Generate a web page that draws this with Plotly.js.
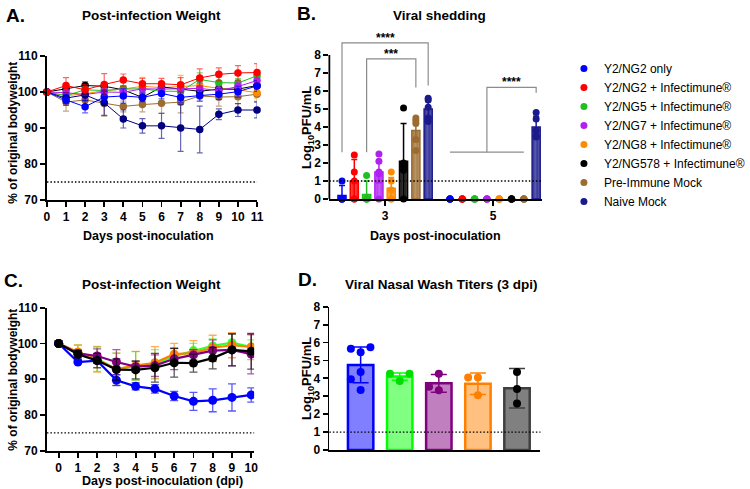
<!DOCTYPE html>
<html>
<head>
<meta charset="utf-8">
<script src="https://cdn.plot.ly/plotly-3.0.1.min.js"></script>
<style>html,body{margin:0;padding:0;background:#fff;}#chart{width:750px;height:489px;}</style>
</head>
<body>
<div id="chart"></div>
<script>
// ---------------- DATA ----------------
// Panel A: Post-infection weight (% of original), days 0-11
const aDays = [0,1,2,3,4,5,6,7,8,9,10,11];
const aBlue   = [100, 97.8, 95.9, 98.6, 98.9, 98.5, 99.6, 98.5, 99.0, 99.4, 100.1, 101.7];
const aRed    = [100, 101.8, 100.6, 102.1, 103.3, 102.3, 102.3, 102.0, 103.9, 104.9, 105.3, 105.4];
const aGreen  = [100, 99.0, 100.6, 100.4, 100.8, 100.9, 100.2, 100.2, 103.5, 102.6, 102.5, 104.5];
const aPurple = [100, 99.8, 99.3, 100.0, 99.9, 100.9, 100.8, 101.0, 101.0, 100.4, 101.5, 103.2];
const aOrange = [100, 99.0, 99.5, 100.4, 100.8, 101.6, 101.2, 101.6, 101.8, 101.0, 100.6, 99.8];
const aBlack  = [100, 100.8, 101.8, 101.6, 100.6, 98.5, 101.4, 100.8, 100.2, 100.8, 100.8, 101.8];
const aBrown  = [100, 97.2, 97.8, 96.8, 96.0, 96.5, 96.9, 97.2, 98.9, 98.6, 98.7, 99.4];
const aNavy   = [100, 98.3, 99.2, 97.0, 92.5, 90.6, 90.6, 90.0, 89.6, 93.8, 95.0, 95.0];
const aBlueSd   = [0, 1.5, 1.7, 1.5, 2.0, 1.2, 1.5, 1.5, 1.5, 1.5, 1.5, 1.5];
const aRedSd    = [0, 2.2, 1.5, 3.0, 1.7, 1.5, 1.5, 2.0, 2.5, 1.8, 2.0, 2.5];
const aGreenSd  = [0, 1.5, 1.0, 1.2, 1.0, 1.0, 1.0, 1.0, 1.8, 1.5, 1.2, 1.5];
const aPurpleSd = [0, 1.0, 1.0, 1.0, 1.2, 1.0, 1.0, 1.5, 1.5, 1.2, 1.2, 1.5];
const aOrangeSd = [0, 1.0, 1.0, 1.0, 1.0, 2.5, 1.5, 3.0, 1.5, 1.5, 1.5, 1.5];
const aBlackSd  = [0, 1.0, 1.0, 1.0, 1.0, 1.0, 1.0, 1.0, 1.0, 1.0, 1.0, 1.0];
const aBrownSd  = [0, 2.5, 2.0, 3.5, 1.5, 2.0, 2.8, 3.0, 1.5, 2.5, 2.0, 2.0];
const aNavySd   = [0, 1.5, 1.5, 3.5, 2.5, 2.0, 3.5, 6.5, 6.5, 1.5, 1.8, 2.2];

// Panel B: Viral shedding (log10 PFU/mL), days 3 and 5
const groupNames = ["Y2/NG2 only","Y2/NG2 + Infectimune®","Y2/NG5 + Infectimune®","Y2/NG7 + Infectimune®",
                    "Y2/NG8 + Infectimune®","Y2/NG578 + Infectimune®","Pre-Immune Mock","Naive Mock"];
const bDays = [3, 5];
const bMeanD3 = [0.2, 1.0, 0.25, 1.5, 0.6, 2.1, 3.8, 5.0];
const bSdD3   = [0.55, 1.2, 0.75, 0.6, 0.6, 2.1, 0.6, 0.45];
const bMeanD5 = [0, 0, 0, 0, 0, 0, 0, 4.0];
const bSdD5   = [0, 0, 0, 0, 0, 0, 0, 0.6];
const bPtsD3 = [[1.0,0,0,0,0],[2.45,1.5,1.0,0,0],[1.3,0,0,0,0],[2.5,2.1,1.5,1.4,0],
                [1.5,1.0,0.5,0,0],[5.05,1.8,1.6,2.0,0],[4.5,4.35,4.2,3.3,2.7],[5.6,5.5,5.1,4.5,4.3]];
const bPtsD5 = [[0,0,0,0,0],[0,0,0,0,0],[0,0,0,0,0],[0,0,0,0,0],
                [0,0,0,0,0],[0,0,0,0,0],[0,0,0,0,0],[4.8,4.45,3.8,3.5,3.45]];
// significance brackets: [group from, group to, day, left foot, right foot, top, label]
const brackets = [[0,7,3,2.6,6.3,8.67,"****"],[2,6,3,2.6,6.2,7.78,"***"]];
const bracketD5 = {fromGroups:[0,6], toGroup:7, day:5, foot:2.6, top:6.2, rightFoot:5.9, label:"****"};

// Panel C: Post-infection weight, days 0-10
const cDays = [0,1,2,3,4,5,6,7,8,9,10];
const cBlue   = [100, 94.8, 95.2, 89.7, 88.0, 87.3, 85.3, 83.8, 84.1, 84.9, 85.6];
const cGreen  = [100, 97.5, 95.7, 92.8, 93.7, 94.3, 96.5, 98.0, 99.3, 100.2, 99.0];
const cOrange = [100, 97.6, 95.5, 92.8, 93.8, 94.6, 97.0, 97.3, 98.8, 99.5, 99.0];
const cPurple = [100, 97.2, 96.5, 94.8, 93.5, 93.8, 95.7, 96.8, 98.0, 98.2, 97.0];
const cBlack  = [100, 97.0, 95.2, 92.7, 92.6, 93.2, 94.6, 94.5, 95.9, 98.2, 97.8];
const cBlueSd   = [0, 0.5, 0.8, 1.5, 1.0, 1.2, 1.3, 2.5, 3.2, 3.8, 2.0];
const cGreenSd  = [0, 2.0, 3.5, 4.5, 4.0, 4.0, 2.0, 2.0, 2.0, 2.5, 2.0];
const cOrangeSd = [0, 2.0, 3.5, 4.5, 4.0, 4.5, 3.0, 3.5, 3.5, 3.5, 3.5];
const cPurpleSd = [0, 1.0, 2.0, 3.5, 1.5, 3.0, 3.0, 1.5, 3.0, 4.5, 5.5];
const cBlackSd  = [0, 1.0, 2.0, 3.0, 2.5, 4.0, 4.0, 2.5, 3.0, 4.5, 5.0];

// Panel D: Viral nasal wash titers (3 dpi)
const dCats  = [0, 1, 2, 3, 4];
const dMeans = [4.75, 4.1, 3.72, 3.7, 3.45];
const dSds   = [1.0, 0.2, 0.5, 0.6, 1.1];
const dPts   = [[5.46,5.65,5.74,4.35,3.95,3.35],[3.85,4.25,4.25],[3.34,3.53,4.25],[3.05,4.05,4.05],[2.6,3.4,4.35]];

// ---------------- STYLE ----------------
const W = 750, H = 489;
const px = x => x / W, py = y => 1 - y / H;
const F = '"Liberation Sans", Arial, Helvetica, sans-serif';
const bold = (size) => ({family: F, size: size, color: '#000', weight: 'bold'});

const aCols = {blue:'#0000ff', red:'#ff0000', green:'#1fbf1f', purple:'#b020f0', orange:'#ff8c00', black:'#000000', brown:'#9c6b30', navy:'#000080'};
const bCols = ['#0000ff','#ff0000','#1fbf1f','#b020f0','#ff8c00','#000000','#9c6b30','#1a1a8c'];
const cCols = {blue:'#0000ff', green:'#33ff33', orange:'#ff8000', purple:'#800080', black:'#000000'};
const dLine = ['#0000ff','#00ff00','#800080','#ff8000','#404040'];
const dFill = ['#7f7fff','#80ff80','#c080c0','#ffc080','#808080'];
const dDot  = ['#0000ff','#00dd00','#800080','#ff8000','#000000'];

function hexA(h, a){const r=parseInt(h.slice(1,3),16),g=parseInt(h.slice(3,5),16),b=parseInt(h.slice(5,7),16);return `rgba(${r},${g},${b},${a})`;}

const traces = [];

// Panel A
const aSeries = [
  ['brown', aBrown, aBrownSd], ['orange', aOrange, aOrangeSd], ['black', aBlack, aBlackSd],
  ['green', aGreen, aGreenSd], ['purple', aPurple, aPurpleSd], ['navy', aNavy, aNavySd],
  ['blue', aBlue, aBlueSd], ['red', aRed, aRedSd]
];
aSeries.forEach(([k, ys, sd]) => {
  traces.push({type:'scatter', mode:'lines+markers', x:aDays, y:ys, xaxis:'x', yaxis:'y', showlegend:false,
    cliponaxis:false, line:{color:aCols[k], width:1}, marker:{color:aCols[k], size:7.5},
    error_y:{type:'data', array:sd, color:hexA(aCols[k],0.6), thickness:1.2, width:3}});
});

// Panel B
const nG = groupNames.length, gStep = 0.228;
const off = i => (i - (nG - 1) / 2) * gStep;
for (let i = 0; i < nG; i++) {
  traces.push({type:'bar', x:bDays.map(d => d + off(i)), y:[bMeanD3[i], bMeanD5[i]], width:0.15,
    xaxis:'x2', yaxis:'y2', showlegend:false,
    marker:{color:hexA(bCols[i], 0.85), line:{color:bCols[i], width:1.5},
            pattern:{shape:'|', fgcolor:'rgba(255,255,255,0.55)', size:4, solidity:0.25, fillmode:'overlay'}},
    error_y:{type:'data', array:[bSdD3[i], bSdD5[i]], color:bCols[i], thickness:1.5, width:3}});
}
for (let i = 0; i < nG; i++) {
  const xs = [], ys = [];
  bPtsD3[i].forEach(v => {xs.push(3 + off(i)); ys.push(v);});
  bPtsD5[i].forEach(v => {xs.push(5 + off(i)); ys.push(v);});
  traces.push({type:'scatter', mode:'markers', x:xs, y:ys, name:groupNames[i], xaxis:'x2', yaxis:'y2',
    cliponaxis:false, marker:{color:bCols[i], size:7}, showlegend:true});
}
// brackets (drawn as lines in data space)
const brColor = '#8c8c8c';
brackets.forEach(([g0, g1, d, yl, yr, yt]) => {
  traces.push({type:'scatter', mode:'lines', x:[d+off(g0), d+off(g0), d+off(g1), d+off(g1)], y:[yl, yt, yt, yr],
    xaxis:'x2', yaxis:'y2', showlegend:false, hoverinfo:'skip', line:{color:brColor, width:1.2}});
});
{
  const b = bracketD5, d = b.day;
  const xa = d + off(b.fromGroups[0]), xb = d + off(b.fromGroups[1]), xm = (xa + xb) / 2, xr = d + off(b.toGroup);
  traces.push({type:'scatter', mode:'lines', x:[xa, xb], y:[b.foot, b.foot], xaxis:'x2', yaxis:'y2', showlegend:false, hoverinfo:'skip', line:{color:brColor, width:1.2}});
  traces.push({type:'scatter', mode:'lines', x:[xm, xm, xr, xr], y:[b.foot, b.top, b.top, b.rightFoot], xaxis:'x2', yaxis:'y2', showlegend:false, hoverinfo:'skip', line:{color:brColor, width:1.2}});
}

// Panel C
const cSeries = [['green', cGreen, cGreenSd], ['orange', cOrange, cOrangeSd], ['purple', cPurple, cPurpleSd], ['blue', cBlue, cBlueSd], ['black', cBlack, cBlackSd]];
cSeries.forEach(([k, ys, sd]) => {
  traces.push({type:'scatter', mode:'lines+markers', x:cDays, y:ys, xaxis:'x3', yaxis:'y3', showlegend:false,
    line:{color:cCols[k], width:2.2}, marker:{color:cCols[k], size:9},
    error_y:{type:'data', array:sd, color:hexA(cCols[k],0.65), thickness:1.3, width:4}});
});

// Panel D
function swarm(vals, xc, pxPerX, pxPerY, diam, step) {
  const placed = [], out = [];
  const tries = [0, -1, 1, -2, 2, -3, 3];
  vals.forEach(v => {
    for (const k of tries) {
      const x = xc + k * step / pxPerX;
      const ok = placed.every(p => Math.hypot((p[0]-x)*pxPerX, (p[1]-v)*pxPerY) >= diam);
      if (ok) { placed.push([x, v]); out.push(x); break; }
    }
  });
  return out;
}
traces.push({type:'bar', x:dCats, y:dMeans, width:0.65, xaxis:'x4', yaxis:'y4', showlegend:false,
  marker:{color:dFill, line:{color:dLine, width:2.5}}});
dCats.forEach((c, i) => {
  traces.push({type:'scatter', mode:'markers', x:[c], y:[dMeans[i]], xaxis:'x4', yaxis:'y4', showlegend:false,
    marker:{size:1, color:'rgba(0,0,0,0)'},
    error_y:{type:'data', array:[dSds[i]], color:dLine[i], thickness:1.5, width:8}});
  traces.push({type:'scatter', mode:'markers', x:swarm(dPts[i], c, 40, 17.95, 8, 10), y:dPts[i], xaxis:'x4', yaxis:'y4',
    showlegend:false, cliponaxis:false, marker:{color:dDot[i], size:8}});
});

// ---------------- LAYOUT ----------------
const axBase = {showline:true, linecolor:'#000', linewidth:1.8, ticks:'outside', ticklen:5, tickwidth:1.8, tickcolor:'#000',
  showgrid:false, zeroline:false, tickfont:bold(12), fixedrange:true};
const dotLine = {color:'#000', width:1.4, dash:'1.5px,2px'};

const layout = {
  width: W, height: H, margin:{l:0, r:0, t:0, b:0}, paper_bgcolor:'#fff', plot_bgcolor:'rgba(0,0,0,0)',
  barmode:'overlay', showlegend:true, hovermode:false,
  legend:{x:px(577), y:py(54), xanchor:'left', yanchor:'top', font:{family:F, size:12, color:'#000'}, bgcolor:'rgba(0,0,0,0)', itemwidth:30, tracegroupgap:0},
  xaxis: Object.assign({}, axBase, {domain:[px(48), px(263)], range:[0, 11], tickvals:aDays, anchor:'y'}),
  yaxis: Object.assign({}, axBase, {domain:[py(200), py(56)], range:[70, 110], tickvals:[70,80,90,100,110], anchor:'x'}),
  xaxis2: Object.assign({}, axBase, {domain:[px(337), px(555)], range:[1.968, 5.914], tickvals:bDays, anchor:'y2'}),
  yaxis2: Object.assign({}, axBase, {domain:[py(199), py(199 - 9.4*18)], range:[0, 9.4], tickvals:[0,1,2,3,4,5,6,7,8], showline:false, anchor:'x2'}),
  xaxis3: Object.assign({}, axBase, {domain:[px(48), px(260)], range:[-0.609, 10.15], tickvals:cDays, anchor:'y3'}),
  yaxis3: Object.assign({}, axBase, {domain:[py(450.7), py(307.7)], range:[70, 110], tickvals:[70,80,90,100,110], anchor:'x3'}),
  xaxis4: Object.assign({}, axBase, {domain:[px(337), px(553)], range:[-0.8, 4.6], tickvals:dCats, ticks:'', showticklabels:false, anchor:'y4'}),
  yaxis4: Object.assign({}, axBase, {domain:[py(450), py(306.7)], range:[0, 8], tickvals:[0,1,2,3,4,5,6,7,8], anchor:'x4'}),
  shapes: [
    {type:'line', xref:'x domain', yref:'y', x0:0, x1:1, y0:75, y1:75, line:dotLine},
    {type:'line', xref:'x2 domain', yref:'y2', x0:0, x1:1, y0:1, y1:1, line:dotLine},
    {type:'line', xref:'x3 domain', yref:'y3', x0:0, x1:1, y0:75, y1:75, line:dotLine},
    {type:'line', xref:'x4 domain', yref:'y4', x0:0, x1:1, y0:1, y1:1, line:dotLine},
    {type:'line', xref:'x2 domain', yref:'y2', x0:0, x1:0, y0:0, y1:8, line:{color:'#000', width:1.8}}
  ],
  annotations: []
};
const A = layout.annotations;
const ann = (x, y, text, size, extra) => A.push(Object.assign({xref:'paper', yref:'paper', x:px(x), y:py(y), text:text, showarrow:false,
  xanchor:'center', yanchor:'middle', font:bold(size)}, extra || {}));
ann(4, 15, 'A.', 19, {xanchor:'left'});
ann(302, 13, 'B.', 19, {xanchor:'left'});
ann(2, 280, 'C.', 19, {xanchor:'left'});
ann(303, 279, 'D.', 19, {xanchor:'left'});
ann(155, 16, 'Post-infection Weight', 13.5);
ann(450, 16, 'Viral shedding', 13.5);
ann(155, 284, 'Post-infection Weight', 13.5);
ann(452, 284, 'Viral Nasal Wash Titers (3 dpi)', 13.5);
ann(152, 236, 'Days post-inoculation', 12.5);
ann(446, 236, 'Days post-inoculation', 12.5);
ann(166, 481, 'Days post-inoculation (dpi)', 12.5);
ann(13, 133, '% of original bodyweight', 12, {textangle:-90});
ann(13, 380, '% of original bodyweight', 12, {textangle:-90});
ann(314, 127, 'Log<sub>10</sub>PFU/mL', 13, {textangle:-90});
ann(314, 378, 'Log<sub>10</sub>PFU/mL', 13, {textangle:-90});
// significance stars
brackets.forEach(([g0, g1, d, yl, yr, yt, lab]) => {
  A.push({xref:'x2', yref:'y2', x:d + (off(g0) + off(g1)) / 2, y:yt, text:lab, showarrow:false, yanchor:'bottom', yshift:-4, font:bold(12)});
});
{
  const b = bracketD5, d = b.day;
  const xm = d + (off(b.fromGroups[0]) + off(b.fromGroups[1])) / 2, xr = d + off(b.toGroup);
  A.push({xref:'x2', yref:'y2', x:(xm + xr) / 2, y:b.top, text:b.label, showarrow:false, yanchor:'bottom', yshift:-4, font:bold(12)});
}

Plotly.newPlot('chart', traces, layout, {staticPlot:true, displayModeBar:false});
</script>
</body>
</html>
